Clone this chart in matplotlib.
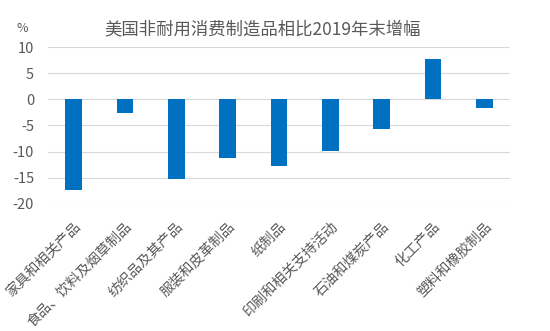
import matplotlib.pyplot as plt

plt.rcParams['font.family'] = ['Noto Sans CJK SC', 'DejaVu Sans']

categories = ['家具和相关产品', '食品、饮料及烟草制品', '纺织品及其产品', '服装和皮革制品',
              '纸制品', '印刷和相关支持活动', '石油和煤炭产品', '化工产品', '塑料和橡胶制品']
values = [-17.3, -2.6, -15.3, -11.3, -12.8, -9.8, -5.7, 7.8, -1.6]
yticks = [10, 5, 0, -5, -10, -15, -20]

text_color = '#595959'

fig = plt.figure(figsize=(5.5, 3.31), dpi=100)
ax = fig.add_axes([0.0873, 0.3837, 0.8400, 0.4743])

x = range(len(categories))
ax.bar(x, values, width=0.32, color='#0070c0', zorder=3)

ax.set_xlim(-0.5, len(categories) - 0.5)
ax.set_ylim(-20, 10)
ax.set_yticks(yticks)
ax.set_yticklabels([str(v) for v in yticks], color=text_color, fontsize=10.5)
ax.grid(axis='y', color='#d9d9d9', linewidth=0.8, zorder=0)

ax.set_xticks(list(x))
ax.set_xticklabels(categories, rotation=45, ha='right', va='top',
                   rotation_mode='anchor', color=text_color, fontsize=10.2)
ax.tick_params(axis='both', length=0)
ax.tick_params(axis='x', pad=11)
ax.tick_params(axis='y', pad=10)

for s in ax.spines.values():
    s.set_visible(False)

fig.text(0.04, 0.915, '%', color=text_color, fontsize=9, ha='center', va='center')
fig.text(0.478, 0.91, '美国非耐用消费制造品相比2019年末增幅', color=text_color,
         fontsize=12.5, ha='center', va='center')

fig.savefig('out.png', dpi=100)
